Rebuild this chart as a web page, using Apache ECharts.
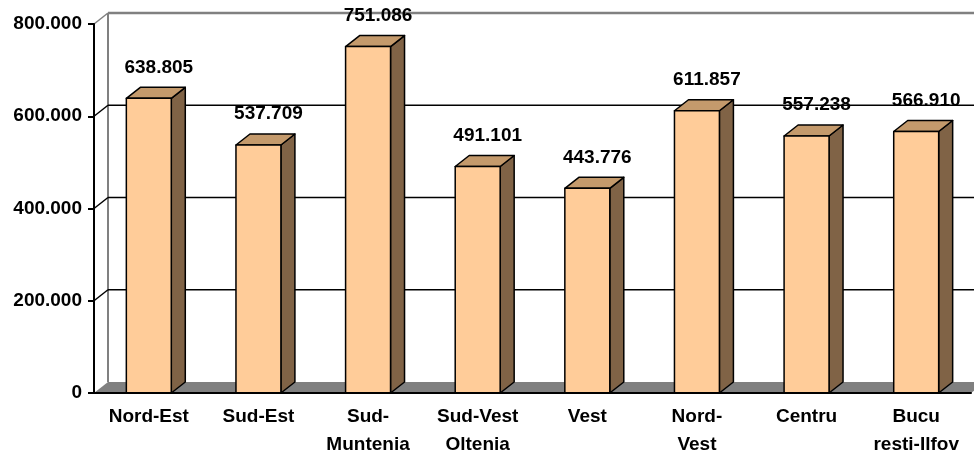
<!DOCTYPE html>
<html>
<head>
<meta charset="utf-8">
<script src="https://cdn.jsdelivr.net/npm/echarts@6/dist/echarts.min.js"></script>
<style>
	html, body { margin: 0; padding: 0; background: #fff; }
	#chart { width: 974px; height: 453px; }
</style>
</head>
<body>
<div id="chart"></div>
<script>
// regiuni si valori
const categories = [
	"Nord-Est",
	"Sud-Est",
	"Sud-\nMuntenia",
	"Sud-Vest\nOltenia",
	"Vest",
	"Nord-\nVest",
	"Centru",
	"Bucu\nresti-Ilfov",
];
const values = [638805, 537709, 751086, 491101, 443776, 611857, 557238, 566910];
const yTicks = [0, 200000, 400000, 600000, 800000];

// adancimea 3D (pseudo)
const DX = 14;
const DY = -11;
const FONT = '"Liberation Sans", Arial, sans-serif';

function fmt(v) {
	return String(v).replace(/\B(?=(\d{3})+(?!\d))/g, ".");
}

// perete spate + podea
function renderWall(params, api) {
	const cs = params.coordSys;
	const v = api.value(1);
	const p = api.coord([0, v]);
	const left = cs.x;
	const right = cs.x + cs.width;
	const y = p[1];
	const children = [];
	if (v === 0) {
		children.push({
			type: "polygon",
			shape: {
				points: [
					[left, y],
					[left + DX, y + DY],
					[right + DX, y + DY],
					[right, y],
				],
			},
			style: { fill: "#808080" },
		});
		const yTop = api.coord([0, yTicks[yTicks.length - 1]])[1];
		children.push({
			type: "line",
			shape: { x1: left + DX, y1: y + DY, x2: left + DX, y2: yTop + DY },
			style: { stroke: "#808080", lineWidth: 2 },
		});
	} else {
		const isTop = v === yTicks[yTicks.length - 1];
		const color = isTop ? "#808080" : "#000";
		children.push({
			type: "line",
			shape: { x1: left + DX, y1: y + DY, x2: right + DX, y2: y + DY },
			style: { stroke: color, lineWidth: isTop ? 2.5 : 1.5 },
		});
		children.push({
			type: "line",
			shape: { x1: left, y1: y, x2: left + DX, y2: y + DY },
			style: { stroke: color, lineWidth: 1.5 },
		});
	}
	return { type: "group", children };
}

// bare 3D
function renderBar(params, api) {
	const idx = api.value(0);
	const val = api.value(1);
	const base = api.coord([idx, 0]);
	const top = api.coord([idx, val]);
	const w = api.size([1, 0])[0] * 0.41;
	const x0 = base[0] - w / 2;
	const x1 = base[0] + w / 2;
	const yb = base[1];
	const yt = top[1];
	const stroke = { stroke: "#000", lineWidth: 1.5, lineJoin: "round" };
	return {
		type: "group",
		children: [
			{
				type: "polygon",
				shape: { points: [[x1, yt], [x1 + DX, yt + DY], [x1 + DX, yb + DY], [x1, yb]] },
				style: Object.assign({ fill: "#806346" }, stroke),
			},
			{
				type: "polygon",
				shape: { points: [[x0, yt], [x0 + DX, yt + DY], [x1 + DX, yt + DY], [x1, yt]] },
				style: Object.assign({ fill: "#C49A6C" }, stroke),
			},
			{
				type: "rect",
				shape: { x: x0, y: yt, width: w, height: yb - yt },
				style: Object.assign({ fill: "#FFCC99" }, stroke),
			},
			{
				type: "text",
				x: base[0] + 10,
				y: yt - 31,
				style: {
					text: fmt(val),
					fill: "#000",
					font: "bold 19px " + FONT,
					align: "center",
					verticalAlign: "middle",
				},
			},
		],
	};
}

const myChart = echarts.init(document.getElementById("chart"));

myChart.setOption({
	animation: false,
	grid: { left: 94, right: 3, top: 24, bottom: 60, outerBoundsMode: "none" },
	xAxis: {
		type: "category",
		data: categories,
		boundaryGap: true,
		axisLine: { lineStyle: { color: "#000", width: 2 } },
		axisTick: { length: 6, lineStyle: { color: "#000", width: 2 } },
		axisLabel: {
			margin: 10,
			color: "#000",
			fontFamily: FONT,
			fontWeight: "bold",
			fontSize: 19,
			lineHeight: 28,
			interval: 0,
		},
		z: 5,
	},
	yAxis: {
		type: "value",
		min: 0,
		max: 800000,
		interval: 200000,
		axisLine: { show: true, lineStyle: { color: "#000", width: 2 } },
		axisTick: { show: true, length: 6, lineStyle: { color: "#000", width: 2 } },
		splitLine: { show: false },
		axisLabel: {
			margin: 12,
			color: "#000",
			fontFamily: FONT,
			fontWeight: "bold",
			fontSize: 19,
			formatter: fmt,
		},
		z: 5,
	},
	series: [
		{
			type: "custom",
			renderItem: renderWall,
			data: yTicks.map(v => [0, v]),
			z: 1,
			silent: true,
		},
		{
			type: "custom",
			renderItem: renderBar,
			data: values.map((v, i) => [i, v]),
			z: 3,
		},
	],
});
</script>
</body>
</html>
